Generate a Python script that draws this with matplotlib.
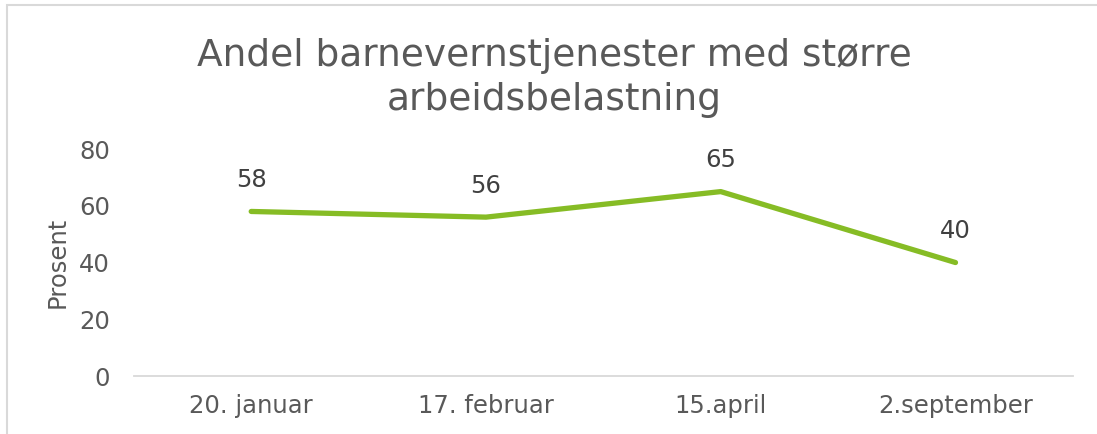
import matplotlib.pyplot as plt
from matplotlib.patches import Rectangle

datoer = ["20. januar", "17. februar", "15.april", "2.september"]
andel = [58, 56, 65, 40]
y_ticks = [0, 20, 40, 60, 80]

grey = "#595959"
green = "#86bc25"

fig = plt.figure(figsize=(10.97, 4.34), dpi=100)
ax = fig.add_axes([0.122, 0.1336, 0.856, 0.523])

x = range(len(datoer))
ax.plot(x, andel, color=green, linewidth=3.8, solid_capstyle="round")
for xi, v in zip(x, andel):
    ax.annotate(str(v), (xi, v), xytext=(0, 14), textcoords="offset points",
                ha="center", va="bottom", fontsize=17.5, color="#404040")

ax.set_xlim(-0.5, len(datoer) - 0.5)
ax.set_ylim(0, 80)
ax.set_yticks(y_ticks)
ax.set_xticks(list(x))
ax.set_xticklabels(datoer)
ax.tick_params(axis="both", length=0, labelsize=17.5, colors=grey)
ax.tick_params(axis="y", pad=17)
ax.tick_params(axis="x", pad=13)
for s in ["top", "right", "left"]:
    ax.spines[s].set_visible(False)
ax.spines["bottom"].set_color("#d9d9d9")
ax.spines["bottom"].set_linewidth(1.3)
ax.set_ylabel("Prosent", fontsize=17.5, color=grey, labelpad=7)

fig.text(0.505, 0.82, "Andel barnevernstjenester med større\narbeidsbelastning",
         ha="center", va="center", fontsize=27, color=grey, linespacing=1.27)

# chart border (only left and top visible in the crop)
fig.patches.append(Rectangle((0.006, -0.05), 1.1, 1.038, transform=fig.transFigure,
                             fill=False, edgecolor="#d9d9d9", linewidth=1.5))

fig.savefig("out.png", dpi=100)
